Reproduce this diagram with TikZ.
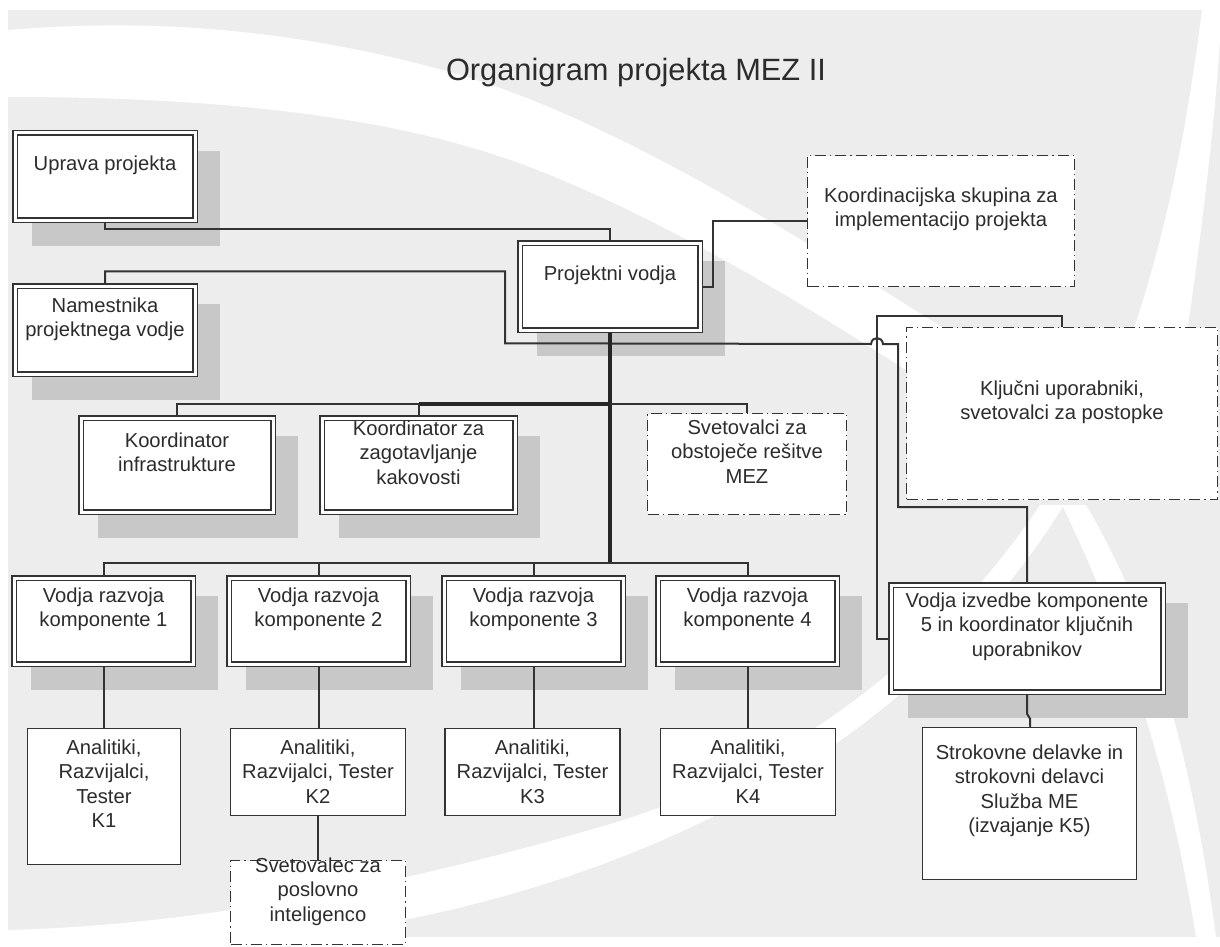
\documentclass[tikz,border=0pt]{standalone}
\usepackage{fontspec}
\setmainfont{Liberation Sans}
\usetikzlibrary{calc}
\definecolor{bggray}{HTML}{EDEDED}
\definecolor{ink}{HTML}{333333}
\definecolor{txtcol}{HTML}{2C2C2C}
\definecolor{shadowcol}{HTML}{C8C8C8}
\pgfdeclarelayer{bands}
\pgfdeclarelayer{shadow}
\pgfdeclarelayer{lines}
\pgfsetlayers{bands,shadow,lines,main}
\newcommand\boxshadow[1]{\fill[shadowcol] ($(#1.north west)+(18,19)$) rectangle ($(#1.south east)+(24,25)$);}
\begin{document}
\begin{tikzpicture}[x=0.5pt,y=-0.5pt,
  every node/.style={inner sep=0pt},
  conn/.style={draw=ink, line width=1pt},
  trunk/.style={draw=black!85, line width=1.6pt},
  dblbox/.style={draw=ink, line width=0.7pt, double=white, double distance=1.5pt, fill=white},
  onebox/.style={draw=ink, line width=0.8pt, fill=white},
  dotbox/.style={draw=ink, line width=0.9pt, fill=white,
     dash pattern=on 5.5pt off 2pt on 0.6pt off 2pt},
  txt/.style={align=center, text=txtcol, anchor=north,
     font=\fontsize{10.1pt}{12.25pt}\selectfont},
]
\useasboundingbox (0,0) rectangle (1220,947);

% ---------- boxes ----------
\node[dblbox, minimum width=90pt, minimum height=43.5pt] (upr) at (105,176.5) {};
\node[dblbox, minimum width=90pt, minimum height=43.5pt] (proj) at (610,286.5) {};
\node[dblbox, minimum width=90pt, minimum height=44pt] (nam) at (105,330) {};
\node[dotbox, minimum width=133.5pt, minimum height=65.5pt] (koord) at (941,221) {};
\node[dotbox, minimum width=155.5pt, minimum height=86pt] (klj) at (1062,413.5) {};
\node[dblbox, minimum width=96pt, minimum height=47pt] (koin) at (177,465) {};
\node[dblbox, minimum width=96.5pt, minimum height=47pt] (kozk) at (418.5,465) {};
\node[dotbox, minimum width=99.5pt, minimum height=50.5pt] (svm) at (747,464) {};
\node[dblbox, minimum width=89.5pt, minimum height=43pt] (v1) at (103.5,621) {};
\node[dblbox, minimum width=89.5pt, minimum height=43pt] (v2) at (318.5,621) {};
\node[dblbox, minimum width=89.5pt, minimum height=43pt] (v3) at (533.5,621) {};
\node[dblbox, minimum width=89.5pt, minimum height=43pt] (v4) at (747.5,621) {};
\node[dblbox, minimum width=136pt, minimum height=53.5pt] (v5) at (1027,638.5) {};
\node[onebox, minimum width=76.5pt, minimum height=68pt] (a1) at (104,796.5) {};
\node[onebox, minimum width=87.5pt, minimum height=43.5pt] (a2) at (318,772) {};
\node[onebox, minimum width=87.5pt, minimum height=43.5pt] (a3) at (532.5,772) {};
\node[onebox, minimum width=87.5pt, minimum height=43.5pt] (a4) at (748,772) {};
\node[onebox, minimum width=107pt, minimum height=76pt] (str) at (1029.5,803.5) {};
\node[dotbox, minimum width=87.5pt, minimum height=42pt] (spi) at (318,902.5) {};

% ---------- texts ----------
\node[font=\fontsize{15.4pt}{18pt}\selectfont, text=txtcol, anchor=base] (title) at (636,81) {Organigram projekta MEZ II};
\node[txt] (uprT) at (105,155) {Uprava projekta};
\node[txt] (projT) at (610,265) {Projektni vodja};
\node[txt] (namT) at (105,297) {Namestnika\\projektnega vodje};
\node[txt] (koordT) at (941,187) {Koordinacijska skupina za\\implementacijo projekta};
\node[txt] (kljT) at (1062,380) {Ključni uporabniki,\\svetovalci za postopke};
\node[txt] (koinT) at (177,432) {Koordinator\\infrastrukture};
\node[txt] (kozkT) at (418.5,420) {Koordinator za\\zagotavljanje\\kakovosti};
\node[txt] (svmT) at (747,419) {Svetovalci za\\obstoječe rešitve\\MEZ};
\node[txt] (v1T) at (103.5,587) {Vodja razvoja\\komponente 1};
\node[txt] (v2T) at (318.5,587) {Vodja razvoja\\komponente 2};
\node[txt] (v3T) at (533.5,587) {Vodja razvoja\\komponente 3};
\node[txt] (v4T) at (747.5,587) {Vodja razvoja\\komponente 4};
\node[txt] (v5T) at (1027,592) {Vodja izvedbe komponente\\5 in koordinator ključnih\\uporabnikov};
\node[txt] (a1T) at (104,739) {Analitiki,\\Razvijalci,\\Tester\\K1};
\node[txt] (a2T) at (318,739) {Analitiki,\\Razvijalci, Tester\\K2};
\node[txt] (a3T) at (532.5,739) {Analitiki,\\Razvijalci, Tester\\K3};
\node[txt] (a4T) at (748,739) {Analitiki,\\Razvijalci, Tester\\K4};
\node[txt] (strT) at (1029.5,744) {Strokovne delavke in\\strokovni delavci\\Služba ME\\(izvajanje K5)};
\node[txt] (spiT) at (318,857) {Svetovalec za\\poslovno\\inteligenco};

% ---------- background with white swooshes ----------
\begin{pgfonlayer}{bands}
\fill[white] (0,0) rectangle (1220,947);
\fill[bggray] (8,10) rectangle (1220,937);
\fill[white] (8,30) .. controls (150,18) and (300,28) .. (467,77)
  .. controls (640,130) and (850,270) .. (1010,370) -- (1010,440)
  .. controls (880,350) and (700,235) .. (545,173)
  .. controls (420,122) and (250,97) .. (8,97) -- cycle;
\fill[white] (1040,505) .. controls (950,640) and (800,770) .. (600,827)
  .. controls (400,885) and (200,925) .. (8,930) -- (8,937) -- (300,937)
  .. controls (550,905) and (880,800) .. (1064,505) -- cycle;
\fill[white] (1062,505) -- (1086,505) .. controls (1130,580) and (1185,700) .. (1216,937)
  -- (1196,937) .. controls (1168,760) and (1118,620) .. cycle;
\fill[white] (1202,10) .. controls (1188,120) and (1168,230) .. (1130,340)
  -- (1186,340) .. controls (1202,230) and (1215,120) .. (1220,40) -- (1220,10) -- cycle;
\end{pgfonlayer}

% ---------- shadows of the framed boxes ----------
\begin{pgfonlayer}{shadow}
\foreach \b in {upr,proj,nam,koin,kozk,v1,v2,v3,v4,v5}{\boxshadow{\b}}
\end{pgfonlayer}

% ---------- connectors ----------
\begin{pgfonlayer}{lines}
\coordinate (j1) at (610,404);
\coordinate (j2) at (610,563);
\draw[conn] (upr.south) -- ++(0,8) -| (proj.north);
\draw[conn] (proj.east) -- ++(12,0) |- (koord.west);
\draw[conn] (nam.north) -- ++(0,-14) -- ++(400,0) -- ++(0,72) -- (871,344)
  .. controls (872,336) and (882,336) .. (883,344) -- (898,344) -- (898,507) -| (v5.north);
\draw[conn] (v5.west) -- (877,638.5) -- (877,316) -| (klj.north);
\draw[trunk] (proj.south) -- (j2);
\draw[trunk] (j1) -- (kozk.north |- j1);
\draw[conn] (kozk.north |- j1) -| (koin.north);
\draw[conn] (kozk.north |- j1) -- (kozk.north);
\draw[conn] (j1) -| (svm.north);
\draw[conn] (j2) -| (v1.north);
\draw[conn] (j2) -| (v2.north);
\draw[conn] (j2) -| (v3.north);
\draw[conn] (j2) -| (v4.north);
\draw[conn] (v1.south) -- (v1.south |- a1.north);
\draw[conn] (v2.south) -- (v2.south |- a2.north);
\draw[conn] (v3.south) -- (v3.south |- a3.north);
\draw[conn] (v4.south) -- (v4.south |- a4.north);
\draw[conn] (a2.south) -- (spi.north);
\draw[conn] (v5.south) -- ++(0,21) -- ++(3,5) |- (str.north);
\end{pgfonlayer}
\end{tikzpicture}
\end{document}
